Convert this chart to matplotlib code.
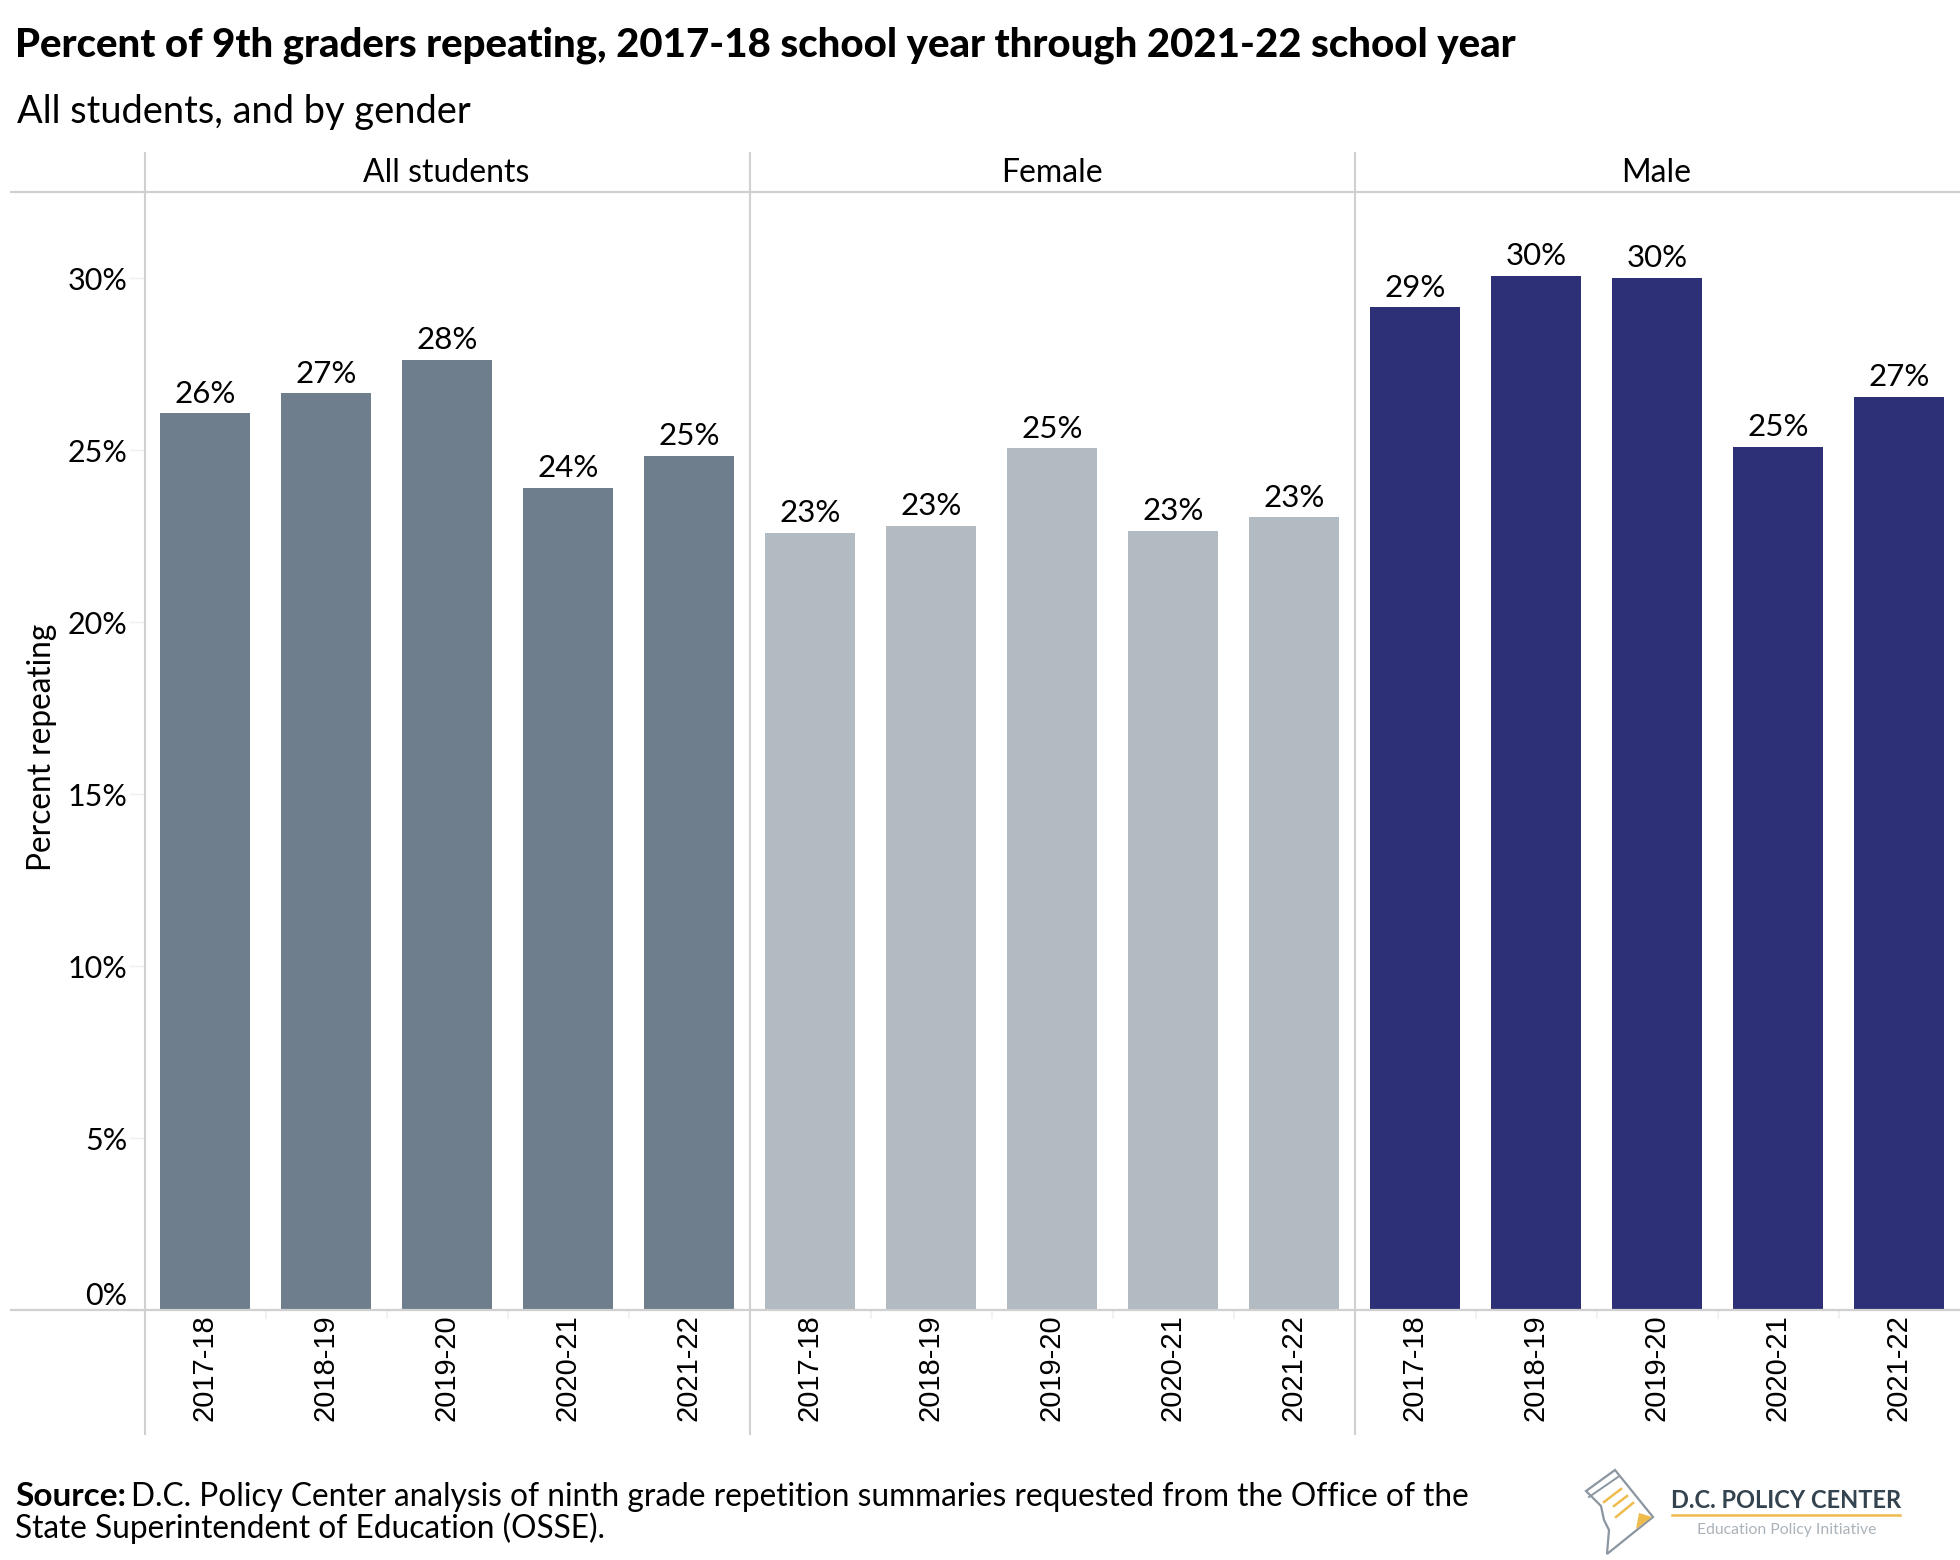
import matplotlib
matplotlib.use('Agg')
import matplotlib.pyplot as plt
from matplotlib.patches import Polygon

plt.rcParams['font.family'] = 'Lato'

years = ['2017-18', '2018-19', '2019-20', '2020-21', '2021-22']
groups = ['All students', 'Female', 'Male']
all_students = [26.07, 26.65, 27.63, 23.9, 24.83]
female = [22.6, 22.8, 25.05, 22.65, 23.05]
male = [29.15, 30.07, 30.0, 25.1, 26.55]
colors = ['#6f7e8c', '#b2bac2', '#2d3076']
yticks = [0, 5, 10, 15, 20, 25, 30]

W, H = 1960, 1560
line_col = '#d0d0d0'

fig = plt.figure(figsize=(W / 100, H / 100), dpi=100)

# overlay in pixel coords for the header, rules, footer and logo
ov = fig.add_axes([0, 0, 1, 1], zorder=5)
ov.set_xlim(0, W)
ov.set_ylim(H, 0)
ov.axis('off')

left = 145
panel_w = 605
top = 192
bottom = 1310

axes = []
for i, (name, vals) in enumerate(zip(groups, [all_students, female, male])):
    x0 = left + i * panel_w
    ax = fig.add_axes([(x0 - 0.7) / W, 1 - bottom / H, panel_w / W, (bottom - top) / H])
    bars = ax.bar(years, vals, width=0.745, color=colors[i])
    ax.bar_label(bars, labels=[f'{v:.0f}%' for v in vals], padding=4, fontsize=22.5, color='black')
    ax.set_ylim(0, 32.5)
    ax.set_xlim(-0.5, 4.5)
    ax.tick_params(axis='x', length=0, pad=3)
    for lab in ax.get_xticklabels():
        lab.set_rotation(90)
        lab.set_fontfamily('Liberation Sans')
        lab.set_fontsize(21)
    for k in range(1, 5):
        ov.plot([x0 + k * panel_w / 5] * 2, [bottom, bottom + 8], color='#efefef', lw=1.2)
    for s in ax.spines.values():
        s.set_visible(False)
    ax.set_yticks(yticks)
    if i == 0:
        ax.set_yticklabels([f'{t}%' for t in yticks], fontsize=22)
        ax.tick_params(axis='y', length=11, width=1, color='#efefef', pad=1)
        zero = ax.get_yticklabels()[0]
        zero.set_verticalalignment('bottom')
        ax.set_ylabel('Percent repeating', fontsize=22.8)
        ax.yaxis.set_label_coords(-0.145, 0.503)
    else:
        ax.tick_params(axis='y', length=0, labelleft=False)
    ov.text(x0 + panel_w / 2 - 1, 173, name, ha='center', va='center', fontsize=23, color='black')
    axes.append(ax)

# rules
for y in (top, bottom):
    ov.plot([10, W], [y, y], color=line_col, lw=1.6, solid_capstyle='butt')
for i in range(3):
    x = left + i * panel_w
    ov.plot([x, x], [152, 1435], color=line_col, lw=1.5, solid_capstyle='butt')

# heading
ov.text(15, 45, 'Percent of 9th graders repeating, 2017-18 school year through 2021-22 school year',
        fontsize=28.87, fontweight='black', va='center', ha='left', color='black')
ov.text(17, 112, 'All students, and by gender', fontsize=27.4, va='center', ha='left', color='black')

# source
ov.text(15, 1497, 'Source:', fontsize=24, fontweight='bold', va='center', ha='left', color='black')
ov.text(131, 1497, 'D.C. Policy Center analysis of ninth grade repetition summaries requested from the Office of the',
        fontsize=22.75, va='center', ha='left', color='black')
ov.text(15, 1528, 'State Superintendent of Education (OSSE).', fontsize=22.8, va='center', ha='left', color='black')

# logo
logo_grey = '#8b96a0'
gold = '#eebb4d'
ov.add_patch(Polygon([(1586, 1491), (1615, 1470), (1653, 1517), (1607, 1554), (1609, 1530),
                      (1604, 1520), (1601, 1506)], closed=True, fc='white', ec=logo_grey, lw=1.6))
ov.plot([1589, 1618], [1497, 1477], color=logo_grey, lw=1.4)
for xs, ys in [((1604, 1621), (1502, 1489)), ((1614, 1627), (1506, 1496)), ((1616, 1633), (1517, 1503))]:
    ov.plot(xs, ys, color=gold, lw=1.8)
ov.add_patch(Polygon([(1639, 1513), (1652, 1517), (1636, 1529)], closed=True, fc=gold, ec='none'))
ov.text(1671, 1500, 'D.C. POLICY CENTER', fontsize=17, fontweight='bold', color='#33434f', va='center', ha='left')
ov.plot([1672, 1900], [1515, 1515], color=gold, lw=1.8)
ov.text(1697, 1530, 'Education Policy Initiative', fontsize=11.3, color='#aab2ba', va='center', ha='left')

fig.savefig('out.png', dpi=100)
